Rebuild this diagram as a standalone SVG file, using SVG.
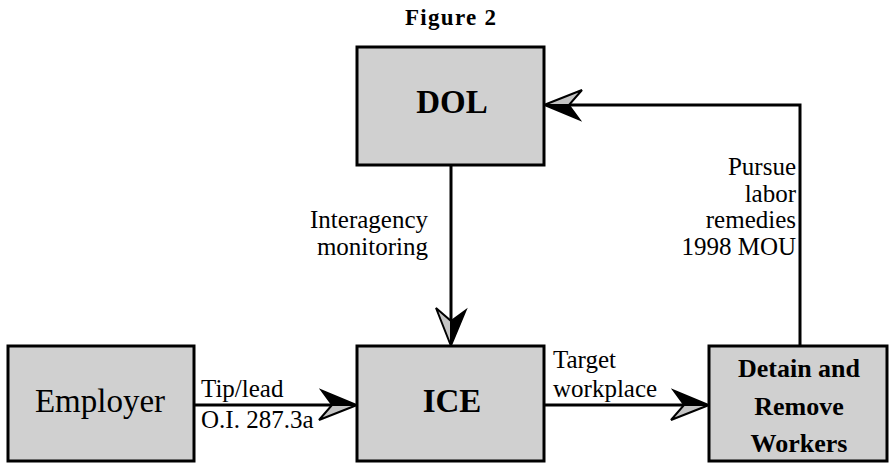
<svg xmlns="http://www.w3.org/2000/svg" width="889" height="463" viewBox="0 0 889 463">
<style>
.box{fill:#d0d0d0;stroke:#000;stroke-width:3}
.ln{fill:none;stroke:#000;stroke-width:3}
text{font-family:'Liberation Serif','Times New Roman',Times,serif;fill:#000}
.lbl{font-size:25px}
.b{font-weight:bold}
</style>
<defs>
<g id="ah">
<polygon points="0,0 -36,-15 -25,0" fill="#000" stroke="#000" stroke-width="1.5" stroke-linejoin="miter"/>
<polygon points="0,0 -25,0 -38,15" fill="#c4c4c4" stroke="#000" stroke-width="2" stroke-linejoin="miter"/>
</g>
</defs>
<rect width="889" height="463" fill="#fff"/>
<text class="b" x="405" y="25" font-size="23" letter-spacing="1.3" font-family="Liberation Serif, serif">Figure 2</text>
<g id="dol">
<rect class="box" x="357" y="47" width="187" height="118"/>
<text class="b" x="452" y="113" font-size="33" text-anchor="middle">DOL</text>
</g>
<g id="employer">
<rect class="box" x="8" y="346" width="186" height="115"/>
<text x="100" y="412" font-size="33" text-anchor="middle">Employer</text>
</g>
<g id="ice">
<rect class="box" x="357" y="346" width="187" height="115"/>
<text class="b" x="452" y="412" font-size="33" text-anchor="middle">ICE</text>
</g>
<g id="detain">
<rect class="box" x="709" y="346" width="178" height="115"/>
<text class="b" x="799" y="377" font-size="26" text-anchor="middle">Detain and</text>
<text class="b" x="799" y="415" font-size="26" text-anchor="middle">Remove</text>
<text class="b" x="799" y="452" font-size="26" text-anchor="middle">Workers</text>
</g>
<g id="connectors">
<path class="ln" d="M194,405 H334"/>
<use href="#ah" transform="translate(357,405)"/>
<path class="ln" d="M544,405 H686"/>
<use href="#ah" transform="translate(709,405)"/>
<path class="ln" d="M451,165 V323"/>
<use href="#ah" transform="translate(451,346) rotate(90)"/>
<path class="ln" d="M800,346 V105 H567"/>
<use href="#ah" transform="translate(544,105) rotate(180)"/>
<text class="lbl" x="201" y="397">Tip/lead</text>
<text class="lbl" x="201" y="428">O.I. 287.3a</text>
<text class="lbl" x="553" y="368">Target</text>
<text class="lbl" x="553" y="397">workplace</text>
<text class="lbl" x="428" y="228" text-anchor="end">Interagency</text>
<text class="lbl" x="428" y="255" text-anchor="end">monitoring</text>
<text class="lbl" x="796" y="175" text-anchor="end">Pursue</text>
<text class="lbl" x="796" y="202" text-anchor="end">labor</text>
<text class="lbl" x="796" y="228" text-anchor="end">remedies</text>
<text class="lbl" x="796" y="255" text-anchor="end">1998 MOU</text>
</g>
</svg>
